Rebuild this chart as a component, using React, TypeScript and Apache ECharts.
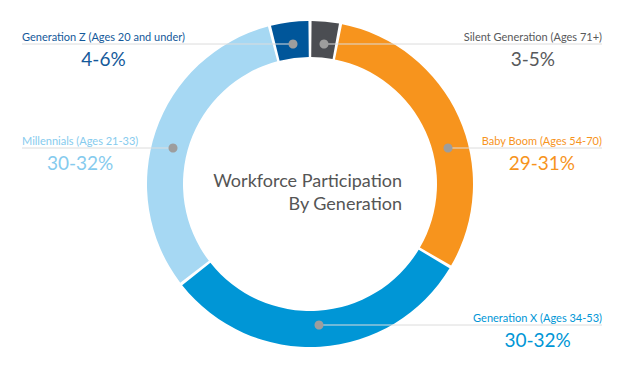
import React, { useEffect, useRef } from "react";
import * as echarts from "echarts";

// ---- data ----
const NAMES = [
  "Silent Generation (Ages 71+)",
  "Baby Boom (Ages 54-70)",
  "Generation X (Ages 34-53)",
  "Millennials (Ages 21-33)",
  "Generation Z (Ages 20 and under)",
];
const SHARES = [3, 30.5, 31, 31.5, 4];
const RANGES = ["3-5%", "29-31%", "30-32%", "30-32%", "4-6%"];
const SLICE_COLORS = ["#4b4d52", "#f7941d", "#0096d6", "#a6d8f3", "#00569a"];
const TEXT_COLORS = ["#58595b", "#f7941d", "#0096d6", "#86cbee", "#14599a"];
const TITLE = "Workforce Participation\nBy Generation";

// ---- layout (label anchors, not data) ----
const CX = 310;
const CY = 184;
const ANCHORS = [
  { side: "right", y: 44, dotX: 324 },
  { side: "right", y: 148, dotX: 448 },
  { side: "right", y: 325, dotX: 319 },
  { side: "left", y: 148, dotX: 173 },
  { side: "left", y: 44, dotX: 293 },
];
const LEFT_EDGE = 22;
const RIGHT_EDGE = 602;
const FONT = "Lato, 'Open Sans', sans-serif";

export default function App() {
  const ref = useRef<HTMLDivElement>(null);
  useEffect(() => {
    if (!ref.current) return;
    const chart = echarts.init(ref.current, undefined, { renderer: "svg" });
    const data = NAMES.map((n, i) => ({
      name: n,
      value: SHARES[i],
      itemStyle: { color: SLICE_COLORS[i] },
      label: {
        color: TEXT_COLORS[i],
        fontWeight: "normal",
        rich: {
          n: { fontSize: 11, lineHeight: 15, align: "center", fontFamily: FONT, fontWeight: "normal", color: TEXT_COLORS[i] },
          v: { fontSize: 19, lineHeight: 28, align: "center", fontFamily: FONT, fontWeight: "normal", color: TEXT_COLORS[i] },
        },
      },
    }));
    const graphics: any[] = [];
    ANCHORS.forEach((a) => {
      graphics.push({
        type: "line",
        z: 50,
        shape: { x1: a.dotX, y1: a.y, x2: a.side === "right" ? RIGHT_EDGE : LEFT_EDGE, y2: a.y },
        style: { stroke: "#dcdcdc", lineWidth: 1 },
      });
    });
    ANCHORS.forEach((a) => {
      graphics.push({
        type: "circle",
        z: 60,
        shape: { cx: a.dotX, cy: a.y, r: 4.5 },
        style: { fill: "#9d9d9d" },
      });
    });
    graphics.push({
      type: "text",
      z: 60,
      x: 402,
      y: 168,
      style: {
        text: TITLE,
        textAlign: "right",
        textVerticalAlign: "top",
        fontSize: 18,
        lineHeight: 23,
        fontFamily: FONT,
        fill: "#555555",
      },
    });
    chart.setOption({
      animation: false,
      graphic: graphics,
      series: [
        {
          type: "pie",
          center: [CX, CY],
          radius: [127, 163],
          startAngle: 90,
          clockwise: true,
          padAngle: 1.1,
          avoidLabelOverlap: false,
          silent: true,
          data,
          labelLine: { show: false },
          label: {
            show: true,
            position: "outside",
            fontFamily: FONT,
            fontWeight: "normal",
            formatter: (p: any) => `{n|${p.name}}\n{v|${RANGES[p.dataIndex]}}`,
          },
          labelLayout: (params: any) => {
            const a = ANCHORS[params.dataIndex];
            return {
              x: a.side === "right" ? RIGHT_EDGE : LEFT_EDGE,
              y: a.y - 15,
              align: a.side === "right" ? "right" : "left",
              verticalAlign: "top",
            };
          },
        },
      ],
    });
    return () => chart.dispose();
  }, []);
  return (
    <div
      ref={ref}
      style={{ position: "fixed", left: 0, top: 0, width: 629, height: 376, background: "#fff" }}
    />
  );
}
